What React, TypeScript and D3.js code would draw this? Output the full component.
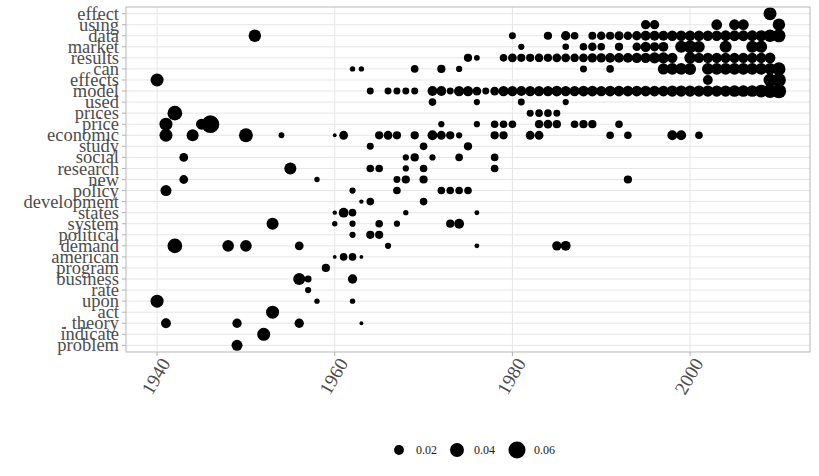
import React from "react";
import * as d3 from "d3";

// categories, top to bottom
const words = [
  "effect", "using", "data", "market", "results", "can", "effects", "model", "used",
  "prices", "price", "economic", "study", "social", "research", "new", "policy",
  "development", "states", "system", "political", "demand", "american", "program",
  "business", "rate", "upon", "act", "theory", "indicate", "problem",
];
const wordLabels: Record<string, string> = { theory: ". theory" };

const xTicks = [1940, 1960, 1980, 2000];
const legendValues = [0.02, 0.04, 0.06];

// [year, value] per word
const effect = [[2009, 0.035]];
const using = [[1995, 0.018], [1996, 0.018], [2003, 0.024], [2005, 0.024], [2006, 0.024], [2010, 0.032]];
const data = [
  [1951, 0.032], [1980, 0.01], [1984, 0.014], [1986, 0.018], [1987, 0.012],
  [1989, 0.013], [1990, 0.015], [1991, 0.014], [1992, 0.017], [1993, 0.015], [1994, 0.018],
  [1995, 0.02], [1996, 0.02], [1997, 0.021], [1998, 0.022], [1999, 0.022], [2000, 0.022],
  [2001, 0.022], [2002, 0.022], [2003, 0.022], [2004, 0.024], [2005, 0.024], [2006, 0.024],
  [2007, 0.024], [2008, 0.026], [2009, 0.032], [2010, 0.036],
];
const market = [
  [1981, 0.008], [1986, 0.009], [1988, 0.012], [1989, 0.015], [1990, 0.012], [1992, 0.014],
  [1994, 0.015], [1995, 0.022], [1996, 0.018], [1997, 0.02], [1999, 0.03], [2000, 0.034],
  [2001, 0.028], [2004, 0.03], [2007, 0.03], [2008, 0.03],
];
const results = [
  [1975, 0.014], [1976, 0.007], [1979, 0.012], [1980, 0.016], [1981, 0.014], [1982, 0.014],
  [1983, 0.015], [1984, 0.014], [1985, 0.016], [1986, 0.016], [1987, 0.015], [1988, 0.016],
  [1989, 0.018], [1990, 0.018], [1991, 0.02], [1992, 0.02], [1993, 0.02], [1994, 0.022],
  [1995, 0.022], [1996, 0.026], [1997, 0.026], [1998, 0.022], [2000, 0.028], [2001, 0.022],
  [2002, 0.022], [2003, 0.022], [2004, 0.022], [2005, 0.022], [2006, 0.022], [2007, 0.022],
  [2008, 0.022], [2009, 0.024],
];
const can = [
  [1962, 0.006], [1963, 0.006], [1969, 0.012], [1972, 0.014], [1974, 0.008], [1988, 0.01],
  [1991, 0.012], [1997, 0.026], [1998, 0.028], [1999, 0.028], [2000, 0.03], [2002, 0.028],
  [2003, 0.028], [2004, 0.028], [2005, 0.028], [2006, 0.028], [2007, 0.028], [2008, 0.028],
  [2009, 0.028], [2010, 0.036],
];
const effects = [[1940, 0.035], [2002, 0.02], [2009, 0.035], [2010, 0.04]];
const model = [
  [1964, 0.01], [1966, 0.01], [1967, 0.01], [1968, 0.01], [1969, 0.01], [1971, 0.02],
  [1972, 0.02], [1973, 0.01], [1974, 0.022], [1975, 0.022], [1976, 0.016], [1977, 0.01],
  [1978, 0.016], [1979, 0.022], [1980, 0.022], [1981, 0.02], [1982, 0.022], [1983, 0.022],
  [1984, 0.022], [1985, 0.024], [1986, 0.022], [1987, 0.022], [1988, 0.024], [1989, 0.024],
  [1990, 0.022], [1991, 0.024], [1992, 0.024], [1993, 0.024], [1994, 0.024], [1995, 0.024],
  [1996, 0.024], [1997, 0.024], [1998, 0.026], [1999, 0.026], [2000, 0.026], [2001, 0.026],
  [2002, 0.026], [2003, 0.026], [2004, 0.026], [2005, 0.028], [2006, 0.028], [2007, 0.028],
  [2008, 0.034], [2009, 0.04], [2010, 0.044],
];
const used = [[1971, 0.012], [1976, 0.008], [1981, 0.01], [1986, 0.008]];
const prices = [[1942, 0.045], [1982, 0.01], [1983, 0.012], [1984, 0.012], [1985, 0.01]];
const price = [
  [1941, 0.035], [1945, 0.025], [1946, 0.065], [1972, 0.008], [1976, 0.008], [1978, 0.012],
  [1979, 0.012], [1980, 0.012], [1983, 0.014], [1984, 0.016], [1985, 0.014], [1987, 0.012],
  [1988, 0.014], [1989, 0.014], [1992, 0.012],
];
const economic = [
  [1941, 0.035], [1944, 0.03], [1950, 0.04], [1954, 0.007], [1960, 0.003], [1961, 0.016],
  [1965, 0.014], [1966, 0.016], [1967, 0.014], [1969, 0.014], [1971, 0.02], [1972, 0.016],
  [1973, 0.014], [1974, 0.008], [1978, 0.014], [1979, 0.014], [1982, 0.016], [1983, 0.016],
  [1991, 0.012], [1993, 0.012], [1998, 0.02], [1999, 0.02], [2001, 0.012],
];
const study = [[1964, 0.01], [1970, 0.012], [1975, 0.014]];
const social = [[1943, 0.016], [1968, 0.008], [1969, 0.014], [1971, 0.008], [1974, 0.012], [1978, 0.012]];
const research = [[1955, 0.03], [1964, 0.012], [1965, 0.012], [1968, 0.008], [1970, 0.012], [1978, 0.012]];
const newWord = [[1943, 0.016], [1958, 0.006], [1967, 0.01], [1968, 0.014], [1970, 0.014], [1993, 0.014]];
const policy = [[1941, 0.025], [1962, 0.008], [1967, 0.012], [1972, 0.012], [1973, 0.012], [1974, 0.012], [1975, 0.012]];
const development = [[1963, 0.004], [1964, 0.012], [1970, 0.012]];
const states = [[1960, 0.004], [1961, 0.02], [1962, 0.012], [1968, 0.006], [1976, 0.005]];
const system = [[1953, 0.03], [1960, 0.006], [1962, 0.008], [1965, 0.012], [1967, 0.008], [1973, 0.014], [1974, 0.02]];
const political = [[1962, 0.008], [1964, 0.014], [1965, 0.014]];
const demand = [[1942, 0.045], [1948, 0.028], [1950, 0.028], [1956, 0.016], [1966, 0.008], [1976, 0.005], [1985, 0.018], [1986, 0.02]];
const american = [[1960, 0.003], [1961, 0.012], [1962, 0.012], [1963, 0.003]];
const program = [[1959, 0.014]];
const business = [[1956, 0.03], [1957, 0.01], [1962, 0.018]];
const rate = [[1957, 0.008]];
const upon = [[1940, 0.035], [1958, 0.006], [1962, 0.006]];
const act = [[1953, 0.035]];
const theory = [[1941, 0.02], [1949, 0.018], [1956, 0.018], [1963, 0.003]];
const indicate = [[1952, 0.035]];
const problem = [[1949, 0.025]];

const rowData: Record<string, number[][]> = {
  effect, using, data, market, results, can, effects, model, used, prices, price,
  economic, study, social, research, new: newWord, policy, development, states, system,
  political, demand, american, program, business, rate, upon, act, theory, indicate, problem,
};

const W = 819;
const H = 476;
const panel = { left: 126, right: 810, top: 7, bottom: 352 };
const FONT = "'Liberation Serif', 'Times New Roman', serif";

export default function App() {
  const x = d3.scaleLinear().domain([1936.5, 2013.5]).range([panel.left, panel.right]);
  const y = d3.scalePoint<string>().domain(words).range([panel.top, panel.bottom]).padding(0.6);
  const r = d3.scaleSqrt().domain([0, 0.07]).range([0, 9.2]);

  const points = words.flatMap((w) =>
    (rowData[w] || []).map(([yr, v]) => ({ w, yr, v }))
  );

  const legendX = [399, 457, 517];
  const legendY = 450;

  return (
    <div style={{ position: "absolute", left: 0, top: 0 }}>
      <svg width={W} height={H} style={{ display: "block", background: "#fff" }}>
        <rect x={0} y={0} width={W} height={H} fill="#fff" />
        {/* grid */}
        {words.map((w) => (
          <line key={"g" + w} x1={panel.left} x2={panel.right} y1={y(w)} y2={y(w)} stroke="#E6E6E6" strokeWidth={1} />
        ))}
        {xTicks.map((t) => (
          <line key={"gx" + t} x1={x(t)} x2={x(t)} y1={panel.top} y2={panel.bottom} stroke="#E6E6E6" strokeWidth={1} />
        ))}
        {/* points */}
        {points.map((p, i) => (
          <circle key={i} cx={x(p.yr)} cy={y(p.w)} r={r(p.v)} fill="#000" />
        ))}
        {/* border */}
        <rect x={panel.left} y={panel.top} width={panel.right - panel.left} height={panel.bottom - panel.top} fill="none" stroke="#BDBDBD" strokeWidth={1.1} />
        {/* y axis */}
        {words.map((w) => (
          <g key={"y" + w}>
            <line x1={panel.left - 4} x2={panel.left} y1={y(w)} y2={y(w)} stroke="#B3B3B3" strokeWidth={1} />
            <text x={panel.left - 7} y={y(w)} dy="0.33em" textAnchor="end" fontFamily={FONT} fontSize={18.5} fill="#4D4D4D">
              {wordLabels[w] || w}
            </text>
          </g>
        ))}
        {/* x axis */}
        {xTicks.map((t) => (
          <g key={"x" + t}>
            <line x1={x(t)} x2={x(t)} y1={panel.bottom} y2={panel.bottom + 4} stroke="#B3B3B3" strokeWidth={1} />
            <text
              transform={`translate(${x(t) + 14},${363}) rotate(-60)`}
              textAnchor="end"
              fontFamily={FONT}
              fontSize={19}
              fill="#4D4D4D"
            >
              {t}
            </text>
          </g>
        ))}
        {/* legend */}
        {legendValues.map((v, i) => (
          <g key={"l" + v}>
            <circle cx={legendX[i]} cy={legendY} r={r(v)} fill="#000" />
            <text x={legendX[i] + 17} y={legendY} dy="0.35em" fontFamily={FONT} fontSize={12} fill="#1A1A1A">
              {v.toFixed(2)}
            </text>
          </g>
        ))}
      </svg>
    </div>
  );
}
